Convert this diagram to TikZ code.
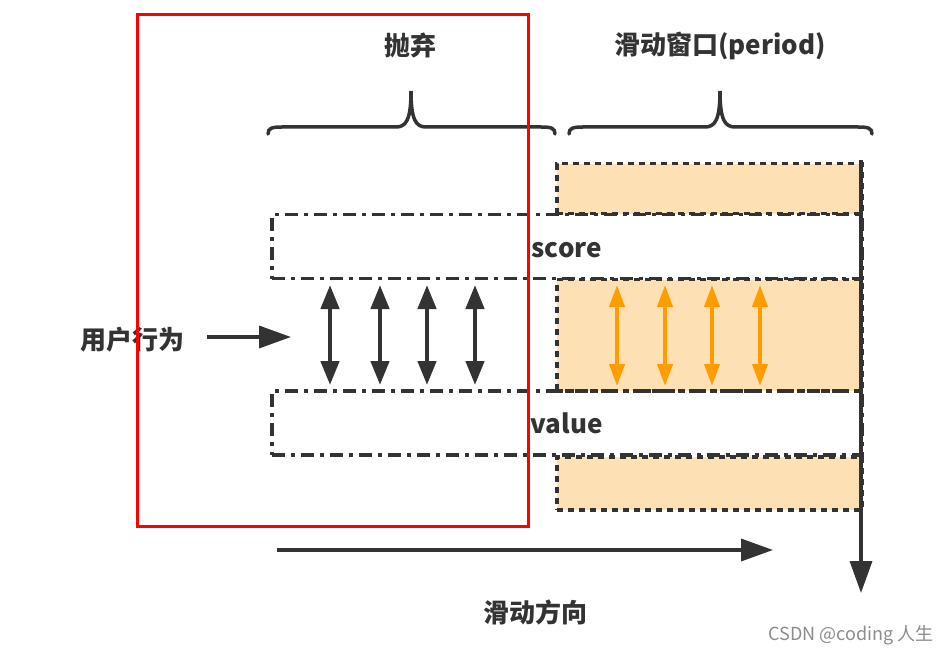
\documentclass[tikz,border=0pt]{standalone}
\usepackage{fontspec}
\setmainfont{Noto Sans CJK SC}
\usetikzlibrary{arrows.meta}
\definecolor{inkgray}{HTML}{333333}
\definecolor{winfill}{HTML}{FDE0B4}
\definecolor{orarrow}{HTML}{FF9C00}
\definecolor{markred}{HTML}{FF0000}
\tikzset{
  winbox/.style={draw=inkgray,fill=winfill,line width=3.5pt,dash pattern=on 6pt off 5pt,
    anchor=north west,inner sep=0pt},
  rowbox/.style={draw=inkgray,line width=3.5pt,dash pattern=on 13pt off 6pt on 4pt off 6pt,
    anchor=north west,inner sep=0pt,text height=22pt,text depth=0pt,
    font=\fontsize{26}{30}\selectfont\bfseries,text=inkgray},
  title/.style={font=\fontsize{26}{30}\selectfont\bfseries,text=inkgray},
  darr/.style={{Triangle[length=24pt,width=18pt]}-{Triangle[length=24pt,width=18pt]},
    line width=4.5pt,draw=inkgray},
  oarr/.style={{Triangle[length=22pt,width=15pt]}-{Triangle[length=22pt,width=15pt]},
    line width=4pt,draw=orarrow},
  arr/.style={-{Triangle[length=32pt,width=22pt]},line width=3.5pt,draw=inkgray},
  brace/.style={line width=3.5pt,draw=inkgray,line cap=round}
}
\begin{document}
\begin{tikzpicture}[x=1pt,y=-1pt]
  \useasboundingbox (0,0) rectangle (951,655);
  % window rows
  \node[winbox,minimum width=305pt,minimum height=50pt] (wtop) at (555,162) {};
  \node[winbox,minimum width=305pt,minimum height=111pt] (wmid) at (555,278) {};
  \node[winbox,minimum width=305pt,minimum height=53pt] (wbot) at (555,455) {};
  \node[rowbox,minimum width=590pt,minimum height=64pt] (score) at (270,213) {score};
  \node[rowbox,minimum width=590pt,minimum height=64pt] (value) at (270,389) {value};
  % double arrows
  \foreach \x [count=\i] in {330,380,427,475}{
    \coordinate (bt\i) at (\x,285);
    \coordinate (bb\i) at (\x,385);
    \draw[darr] (bt\i) -- (bb\i);
  }
  \foreach \x [count=\i] in {617,665,712,760}{
    \coordinate (ot\i) at (\x,285);
    \coordinate (ob\i) at (\x,386);
    \draw[oarr] (ot\i) -- (ob\i);
  }
  % braces
  \node[title] (discard) at (410,45) {抛弃};
  \node[title] (period) at (720,46) {滑动窗口(period)};
  \draw[brace] (268,134) .. controls (268,128) and (272,127) .. (282,127) -- (396,127)
    .. controls (406,127) and (411,120) .. (411,91)
    .. controls (411,120) and (416,127) .. (426,127) -- (541,127)
    .. controls (551,127) and (555,128) .. (555,134);
  \draw[brace] (569,134) .. controls (569,128) and (573,127) .. (583,127) -- (705,127)
    .. controls (715,127) and (720,120) .. (720,91)
    .. controls (720,120) and (725,127) .. (735,127) -- (858,127)
    .. controls (868,127) and (872,128) .. (872,134);
  % input and sliding direction
  \node[title] (user) at (132,340) {用户行为};
  \coordinate (ustart) at (207,337);
  \coordinate (uend) at (291,337);
  \draw[arr] (ustart) -- (uend);
  \coordinate (sstart) at (277,550);
  \coordinate (send) at (773,550);
  \draw[arr] (sstart) -- (send);
  \node[title] (slide) at (535,612) {滑动方向};
  \coordinate (vtop) at (861,160);
  \coordinate (vend) at (861,593);
  \draw[arr] (vtop) -- (vend);
  % discarded part
  \draw[markred,line width=3pt] (137,15) rectangle (528,526);
  \node[text=black!45,font=\fontsize{18}{21}\selectfont] (mark) at (851,635) {CSDN @coding 人生};
\end{tikzpicture}
\end{document}
